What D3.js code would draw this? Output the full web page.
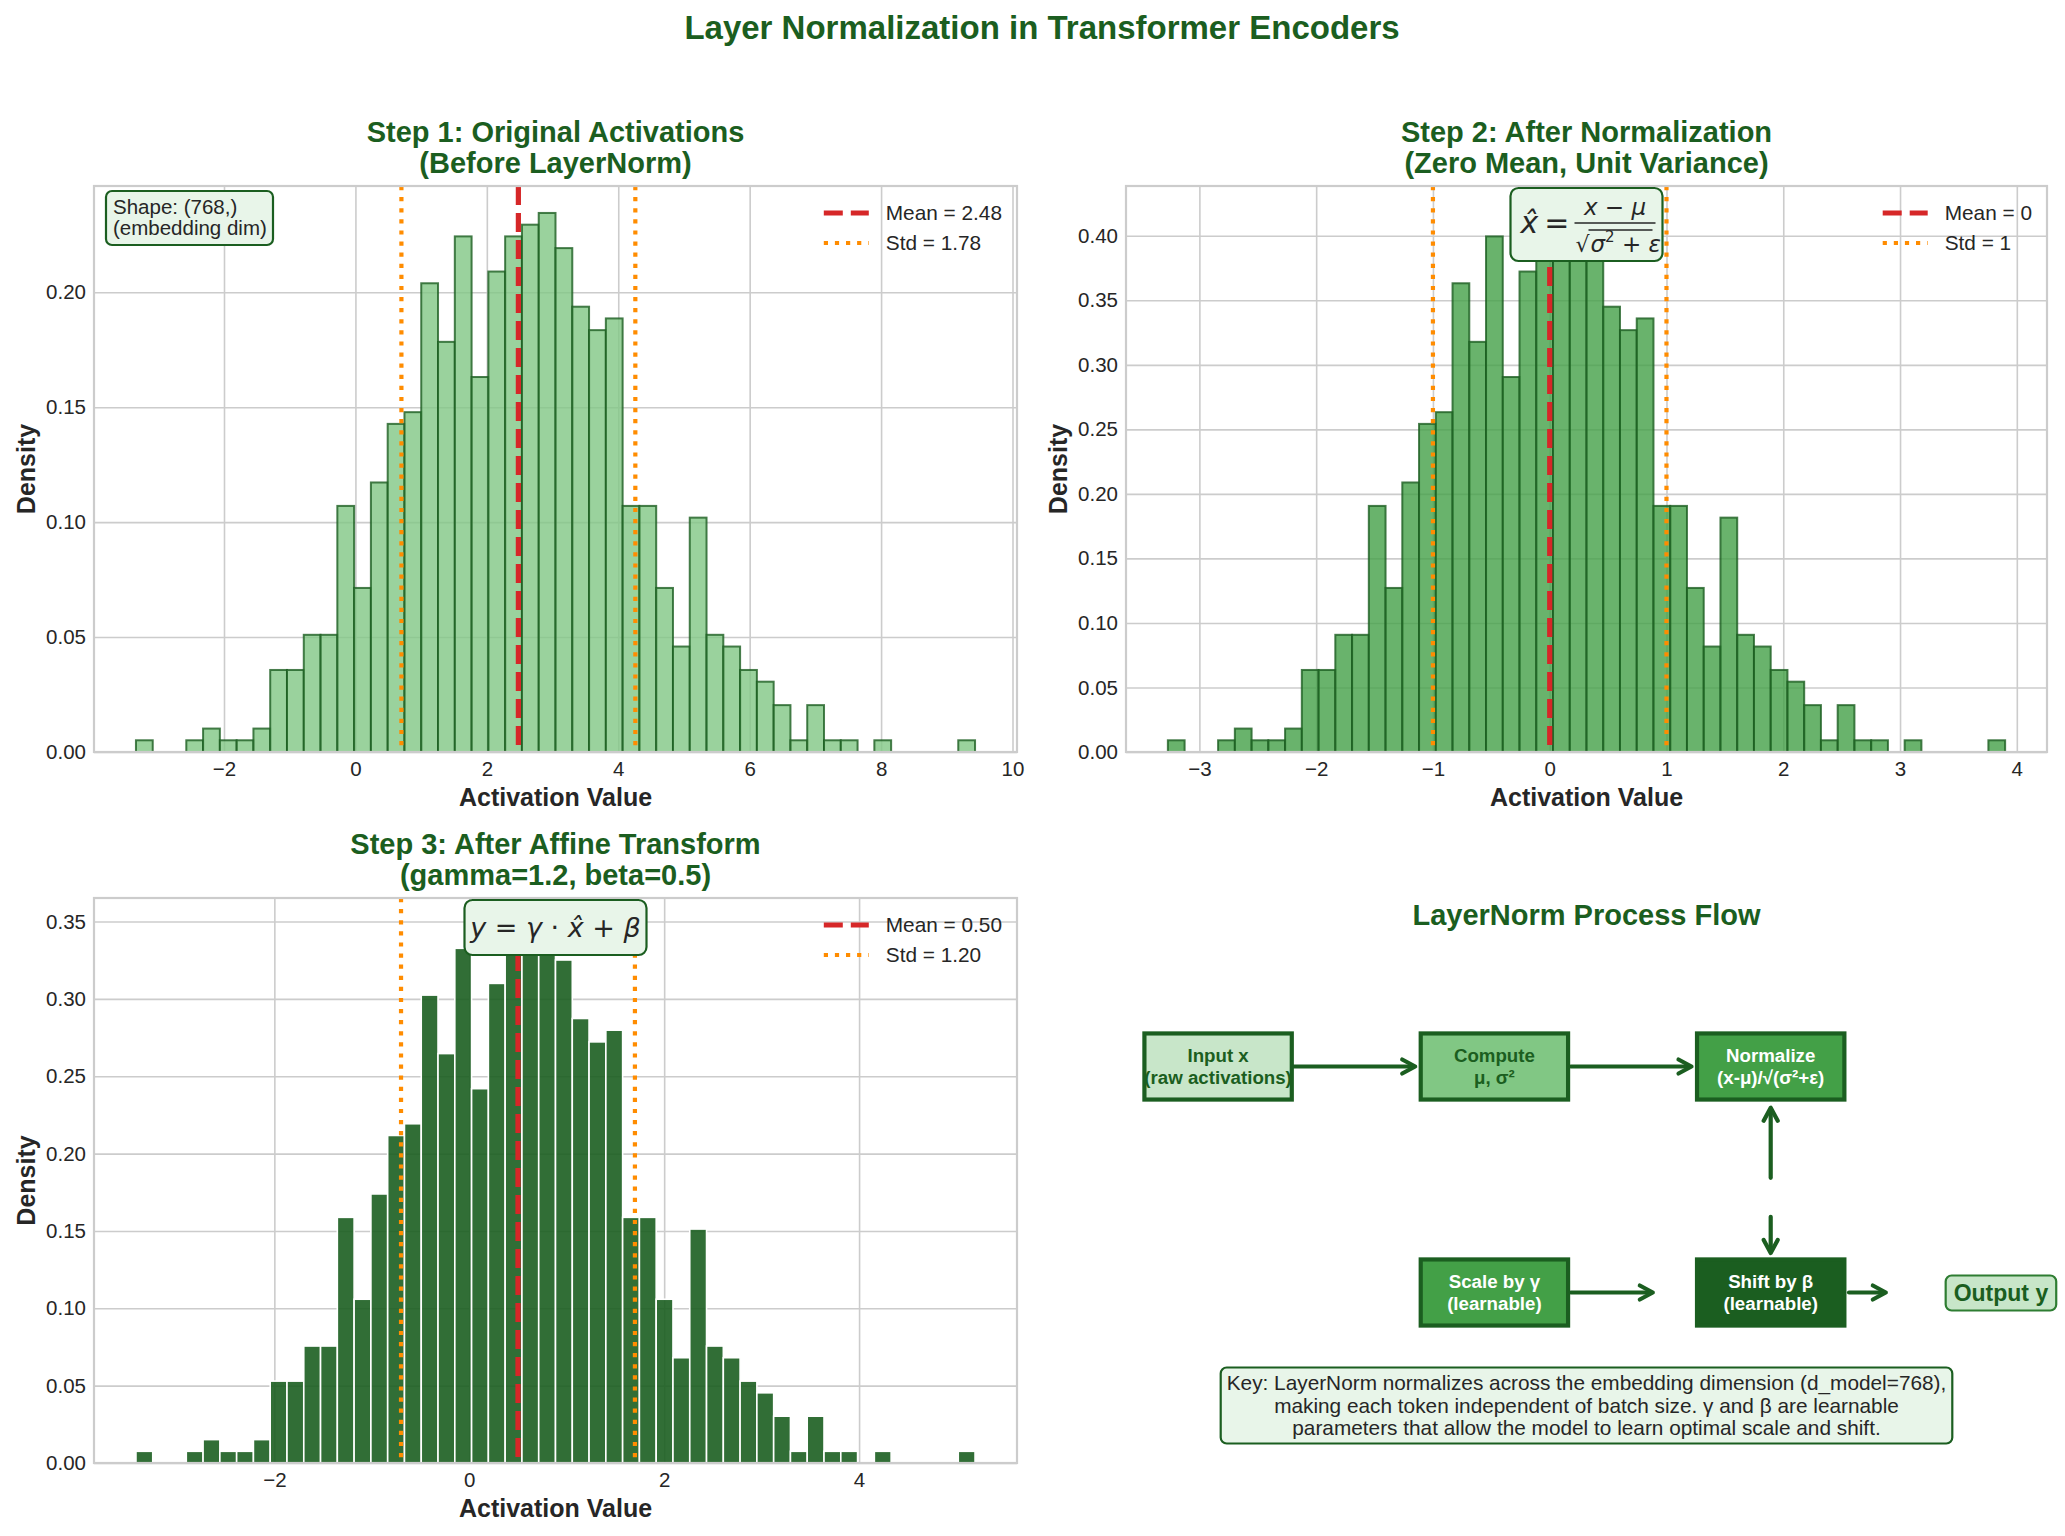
<!DOCTYPE html>
<html>
<head>
<meta charset="utf-8">
<script src="https://cdn.jsdelivr.net/npm/d3@7"></script>
<style>
  body { margin: 0; background: #fff; }
  svg { display: block; }
</style>
</head>
<body>
<div id="chart"></div>
<script>
// Layer normalization figure: three histograms of the same 768 activations + a flow diagram

// counts in each of the 50 histogram bins (same sample in all three panels)
const sampleSize = 768;
const binCounts = [1, 0, 0, 1, 2, 1, 1, 2, 7, 7, 10, 10, 21, 14, 23, 28, 29, 40, 35, 44,
                   32, 41, 44, 45, 46, 43, 38, 36, 37, 21, 21, 14, 9, 20, 10, 9, 7, 6, 4, 1,
                   4, 1, 1, 0, 1, 0, 0, 0, 0, 1];

// data range (min, max) of each panel
const rawRange = [-3.34, 9.43];
const normRange = [-3.27, 3.90];
const affineRange = [-3.42, 5.19];

const panelMeans = [2.48, 0, 0.50];
const panelStds = [1.78, 1, 1.20];
const meanLabels = ["Mean = 2.48", "Mean = 0", "Mean = 0.50"];
const stdLabels = ["Std = 1.78", "Std = 1", "Std = 1.20"];

const rawXTicks = [-2, 0, 2, 4, 6, 8, 10];
const normXTicks = [-3, -2, -1, 0, 1, 2, 3, 4];
const affineXTicks = [-2, 0, 2, 4];
const rawYTicks = [0, 0.05, 0.10, 0.15, 0.20];
const normYTicks = [0, 0.05, 0.10, 0.15, 0.20, 0.25, 0.30, 0.35, 0.40];
const affineYTicks = [0, 0.05, 0.10, 0.15, 0.20, 0.25, 0.30, 0.35];

const flowLabels = [
  ["Input x", "(raw activations)"],
  ["Compute", "μ, σ²"],
  ["Normalize", "(x-μ)/√(σ²+ε)"],
  ["Scale by γ", "(learnable)"],
  ["Shift by β", "(learnable)"]
];
const keyLines = [
  "Key: LayerNorm normalizes across the embedding dimension (d_model=768),",
  "making each token independent of batch size. γ and β are learnable",
  "parameters that allow the model to learn optimal scale and shift."
];

const W = 2065, H = 1536;
const FONT = '"Liberation Sans", Arial, Helvetica, sans-serif';
const MATH = '"DejaVu Sans", sans-serif';
const DARK = "#1b5e20";
const TXT = "#262626";
const GRID = "#cccccc";

const svg = d3.select("#chart").append("svg")
  .attr("width", W).attr("height", H)
  .attr("font-family", FONT);

svg.append("rect").attr("width", W).attr("height", H).attr("fill", "#fff");

svg.append("text")
  .attr("x", 1042).attr("y", 27).attr("dy", "0.35em")
  .attr("text-anchor", "middle")
  .attr("font-size", 33).attr("font-weight", "bold")
  .attr("fill", DARK)
  .text("Layer Normalization in Transformer Encoders");

let clipId = 0;

function drawHist(cfg) {
  const { left, top, width, height } = cfg.box;
  const right = left + width, bottom = top + height;
  const g = svg.append("g");

  const span = cfg.range[1] - cfg.range[0];
  const x = d3.scaleLinear()
    .domain([cfg.range[0] - span * 0.05, cfg.range[1] + span * 0.05])
    .range([left, right]);

  const bw = span / binCounts.length;
  const bins = binCounts.map((c, i) => ({
    x0: cfg.range[0] + i * bw,
    x1: cfg.range[0] + (i + 1) * bw,
    d: c / (sampleSize * bw)
  }));

  const y = d3.scaleLinear()
    .domain([0, d3.max(bins, d => d.d) * 1.05])
    .range([bottom, top]);

  // grid + tick labels
  const xAxis = g.append("g")
    .attr("transform", `translate(0,${bottom})`)
    .call(d3.axisBottom(x).tickValues(cfg.xTicks).tickSize(-height)
      .tickPadding(9).tickFormat(d3.format("d")));
  const yAxis = g.append("g")
    .attr("transform", `translate(${left},0)`)
    .call(d3.axisLeft(y).tickValues(cfg.yTicks).tickSize(-width)
      .tickPadding(8).tickFormat(d3.format(".2f")));
  [xAxis, yAxis].forEach(a => {
    a.select(".domain").remove();
    a.selectAll("line").attr("stroke", GRID).attr("stroke-width", 1.6);
    a.selectAll("text").attr("font-size", 20.5).attr("fill", TXT)
      .attr("font-family", FONT);
  });

  const cid = "clip" + (clipId++);
  svg.append("clipPath").attr("id", cid)
    .append("rect").attr("x", left).attr("y", top).attr("width", width).attr("height", height);

  const plot = g.append("g").attr("clip-path", `url(#${cid})`);

  plot.selectAll(".bar")
    .data(bins.filter(b => b.d > 0))
    .enter()
    .append("rect")
    .attr("class", "bar")
    .attr("x", d => x(d.x0))
    .attr("y", d => y(d.d))
    .attr("width", d => x(d.x1) - x(d.x0))
    .attr("height", d => y(0) - y(d.d))
    .attr("fill", cfg.fill)
    .attr("fill-opacity", cfg.fillOpacity)
    .attr("stroke", cfg.edge)
    .attr("stroke-opacity", cfg.edgeOpacity)
    .attr("stroke-width", cfg.edgeWidth);

  const meanV = panelMeans[cfg.idx], stdV = panelStds[cfg.idx];
  plot.append("line")
    .attr("x1", x(meanV)).attr("x2", x(meanV))
    .attr("y1", top).attr("y2", bottom)
    .attr("stroke", "#d62728").attr("stroke-width", 5.2)
    .attr("stroke-dasharray", "19,8");
  [meanV - stdV, meanV + stdV].forEach(v => {
    plot.append("line")
      .attr("x1", x(v)).attr("x2", x(v))
      .attr("y1", top).attr("y2", bottom)
      .attr("stroke", "#ff8c00").attr("stroke-width", 4.2)
      .attr("stroke-dasharray", "4.2,6.9");
  });

  // spines
  g.append("rect")
    .attr("x", left).attr("y", top).attr("width", width).attr("height", height)
    .attr("fill", "none").attr("stroke", GRID).attr("stroke-width", 2.2);

  // titles & labels
  cfg.title.forEach((t, i) => {
    g.append("text")
      .attr("x", (left + right) / 2).attr("y", top - 54 + i * 31).attr("dy", "0.35em")
      .attr("text-anchor", "middle").attr("font-size", 29).attr("font-weight", "bold")
      .attr("fill", DARK).text(t);
  });
  g.append("text")
    .attr("x", (left + right) / 2).attr("y", bottom + 45).attr("dy", "0.35em")
    .attr("text-anchor", "middle").attr("font-size", 25).attr("font-weight", "bold")
    .attr("fill", TXT).text("Activation Value");
  g.append("text")
    .attr("transform", `translate(${left - 68},${(top + bottom) / 2}) rotate(-90)`)
    .attr("dy", "0.35em")
    .attr("text-anchor", "middle").attr("font-size", 25).attr("font-weight", "bold")
    .attr("fill", TXT).text("Density");

  // legend (upper right, no frame)
  const lg = g.append("g");
  const labels = [meanLabels[cfg.idx], stdLabels[cfg.idx]];
  const texts = labels.map((l, i) => lg.append("text")
    .attr("y", top + 27 + i * 30).attr("dy", "0.35em")
    .attr("font-size", 20.8).attr("fill", TXT).text(l));
  const maxW = d3.max(texts, t => t.node().getComputedTextLength());
  const tx = right - 15 - maxW;
  texts.forEach(t => t.attr("x", tx));
  lg.append("line")
    .attr("x1", tx - 62).attr("x2", tx - 17)
    .attr("y1", top + 27).attr("y2", top + 27)
    .attr("stroke", "#d62728").attr("stroke-width", 5.2).attr("stroke-dasharray", "19,8");
  lg.append("line")
    .attr("x1", tx - 62).attr("x2", tx - 17)
    .attr("y1", top + 57).attr("y2", top + 57)
    .attr("stroke", "#ff8c00").attr("stroke-width", 4.2).attr("stroke-dasharray", "4.2,6.9");

  return { g, left, right, top, bottom };
}

const p1 = drawHist({
  idx: 0, range: rawRange, xTicks: rawXTicks, yTicks: rawYTicks,
  box: { left: 94, top: 186, width: 923, height: 566 },
  title: ["Step 1: Original Activations", "(Before LayerNorm)"],
  fill: "#81c784", fillOpacity: 0.8, edge: DARK, edgeOpacity: 0.8, edgeWidth: 2
});

const p2 = drawHist({
  idx: 1, range: normRange, xTicks: normXTicks, yTicks: normYTicks,
  box: { left: 1126, top: 186, width: 921, height: 566 },
  title: ["Step 2: After Normalization", "(Zero Mean, Unit Variance)"],
  fill: "#43a047", fillOpacity: 0.8, edge: DARK, edgeOpacity: 0.8, edgeWidth: 2
});

const p3 = drawHist({
  idx: 2, range: affineRange, xTicks: affineXTicks, yTicks: affineYTicks,
  box: { left: 94, top: 898, width: 923, height: 565 },
  title: ["Step 3: After Affine Transform", "(gamma=1.2, beta=0.5)"],
  fill: DARK, fillOpacity: 0.9, edge: "#ffffff", edgeOpacity: 1, edgeWidth: 1.6
});

// "Shape" note, panel 1
(function () {
  const g = p1.g.append("g");
  g.append("rect")
    .attr("x", p1.left + 12).attr("y", p1.top + 5).attr("width", 167).attr("height", 54)
    .attr("rx", 6).attr("fill", "#e8f5e9").attr("stroke", DARK).attr("stroke-width", 2.2);
  ["Shape: (768,)", "(embedding dim)"].forEach((t, i) => {
    g.append("text")
      .attr("x", p1.left + 19).attr("y", p1.top + 21 + i * 21).attr("dy", "0.35em")
      .attr("font-size", 20.5).attr("fill", TXT).text(t);
  });
})();

// normalization formula, panel 2
(function () {
  const cx = (p2.left + p2.right) / 2;
  const bw = 152, bh = 73;
  const bx = cx - bw / 2, by = p2.top + 2;
  const g = p2.g.append("g").attr("font-family", MATH).attr("fill", TXT);
  g.append("rect")
    .attr("x", bx).attr("y", by).attr("width", bw).attr("height", bh)
    .attr("rx", 8).attr("fill", "#e8f5e9").attr("stroke", DARK).attr("stroke-width", 2.2);
  const lhs = g.append("text").attr("x", bx + 10).attr("y", by + 45).attr("font-size", 30);
  lhs.append("tspan").attr("font-style", "italic").text("x\u0302");
  lhs.append("tspan").attr("dx", 6).text("=");
  const f0 = bx + 64, f1 = bx + 145;
  const num = g.append("text").attr("x", (f0 + f1) / 2).attr("y", by + 27)
    .attr("text-anchor", "middle").attr("font-size", 23);
  num.append("tspan").attr("font-style", "italic").text("x");
  num.append("tspan").text(" − ");
  num.append("tspan").attr("font-style", "italic").text("μ");
  g.append("line").attr("x1", f0).attr("x2", f1).attr("y1", by + 35).attr("y2", by + 35)
    .attr("stroke", TXT).attr("stroke-width", 1.6);
  g.append("text").attr("x", f0 + 1).attr("y", by + 64).attr("font-size", 22).text("√");
  g.append("line").attr("x1", f0 + 14).attr("x2", f1 - 3).attr("y1", by + 42).attr("y2", by + 42)
    .attr("stroke", TXT).attr("stroke-width", 1.4);
  const den = g.append("text").attr("x", f0 + 16).attr("y", by + 64).attr("font-size", 23);
  den.append("tspan").attr("font-style", "italic").text("σ");
  den.append("tspan").attr("font-size", 15).attr("dy", -10).text("2");
  den.append("tspan").attr("dy", 10).text(" + ");
  den.append("tspan").attr("font-style", "italic").text("ε");
})();

// affine formula, panel 3
(function () {
  const cx = (p3.left + p3.right) / 2;
  const bw = 182, bh = 55;
  const g = p3.g.append("g").attr("font-family", MATH).attr("fill", TXT);
  g.append("rect")
    .attr("x", cx - bw / 2).attr("y", p3.top + 2).attr("width", bw).attr("height", bh)
    .attr("rx", 8).attr("fill", "#e8f5e9").attr("stroke", DARK).attr("stroke-width", 2.2);
  const t = g.append("text").attr("x", cx).attr("y", p3.top + 39)
    .attr("text-anchor", "middle").attr("font-size", 27);
  t.append("tspan").attr("font-style", "italic").text("y");
  t.append("tspan").text(" = ");
  t.append("tspan").attr("font-style", "italic").text("γ");
  t.append("tspan").text(" · ");
  t.append("tspan").attr("font-style", "italic").text("x\u0302");
  t.append("tspan").text(" + ");
  t.append("tspan").attr("font-style", "italic").text("β");
})();

// flow diagram (panel 4, axis off, 0..10 both ways)
(function () {
  const fx = d3.scaleLinear().domain([0, 10]).range([1126, 2047]);
  const fy = d3.scaleLinear().domain([0, 10]).range([1462, 897]);
  const g = svg.append("g");

  g.append("text")
    .attr("x", fx(5)).attr("y", 915).attr("dy", "0.35em")
    .attr("text-anchor", "middle").attr("font-size", 29).attr("font-weight", "bold")
    .attr("fill", DARK).text("LayerNorm Process Flow");

  const boxes = [
    { cx: 1, cy: 7, fill: "#c8e6c9", text: DARK },
    { cx: 4, cy: 7, fill: "#81c784", text: DARK },
    { cx: 7, cy: 7, fill: "#43a047", text: "#ffffff" },
    { cx: 4, cy: 3, fill: "#43a047", text: "#ffffff" },
    { cx: 7, cy: 3, fill: DARK, text: "#ffffff" }
  ];
  const bw = fx(1.6) - fx(0), bh = fy(0) - fy(1.17);
  boxes.forEach((b, i) => {
    const px = fx(b.cx), py = fy(b.cy);
    g.append("rect")
      .attr("x", px - bw / 2).attr("y", py - bh / 2)
      .attr("width", bw).attr("height", bh)
      .attr("fill", b.fill).attr("stroke", DARK).attr("stroke-width", 4.2);
    flowLabels[i].forEach((t, j) => {
      g.append("text")
        .attr("x", px).attr("y", py + (j - 0.5) * 22).attr("dy", "0.35em")
        .attr("text-anchor", "middle").attr("font-size", 18.7).attr("font-weight", "bold")
        .attr("fill", b.text).text(t);
    });
  });

  const arrows = [
    [1.82, 7, 3.14, 7], [4.83, 7, 6.14, 7],
    [7, 5.03, 7, 6.27], [7, 4.34, 7, 3.70],
    [4.83, 3, 5.72, 3], [7.85, 3, 8.25, 3]
  ];
  arrows.forEach(([x1, y1, x2, y2]) => {
    const ax1 = fx(x1), ay1 = fy(y1), ax2 = fx(x2), ay2 = fy(y2);
    const ang = Math.atan2(ay2 - ay1, ax2 - ax1);
    const hl = 13, hw = 7;
    const bx = ax2 - hl * Math.cos(ang), by = ay2 - hl * Math.sin(ang);
    const nx = -Math.sin(ang) * hw, ny = Math.cos(ang) * hw;
    g.append("line")
      .attr("x1", ax1).attr("y1", ay1).attr("x2", ax2 - 2 * Math.cos(ang)).attr("y2", ay2 - 2 * Math.sin(ang))
      .attr("stroke", DARK).attr("stroke-width", 4.2).attr("stroke-linecap", "round");
    g.append("path")
      .attr("d", `M${bx + nx},${by + ny} L${ax2},${ay2} L${bx - nx},${by - ny}`)
      .attr("fill", "none").attr("stroke", DARK).attr("stroke-width", 4.2)
      .attr("stroke-linejoin", "round").attr("stroke-linecap", "round");
  });

  // output label
  const ox = fx(9.5), oy = fy(3);
  const og = g.append("g");
  const oRect = og.append("rect");
  const ot = og.append("text")
    .attr("x", ox).attr("y", oy).attr("dy", "0.35em")
    .attr("text-anchor", "middle").attr("font-size", 23).attr("font-weight", "bold")
    .attr("fill", DARK).text("Output y");
  const ow = ot.node().getComputedTextLength() + 16;
  oRect.attr("x", ox - ow / 2).attr("y", oy - 17).attr("width", ow).attr("height", 35)
    .attr("rx", 6).attr("fill", "#c8e6c9").attr("stroke", "#2e7d32").attr("stroke-width", 2.2);

  // key note
  const kg = g.append("g");
  const kRect = kg.append("rect");
  const kTexts = keyLines.map((t, i) => kg.append("text")
    .attr("x", fx(5)).attr("y", fy(1) + (i - 1) * 22.5).attr("dy", "0.35em")
    .attr("text-anchor", "middle").attr("font-size", 20.8).attr("fill", TXT).text(t));
  const kw = d3.max(kTexts, t => t.node().getComputedTextLength()) + 12;
  kRect.attr("x", fx(5) - kw / 2).attr("y", fy(1) - 38).attr("width", kw).attr("height", 76)
    .attr("rx", 6).attr("fill", "#e8f5e9").attr("stroke", DARK).attr("stroke-width", 2.2);
})();
</script>
</body>
</html>
